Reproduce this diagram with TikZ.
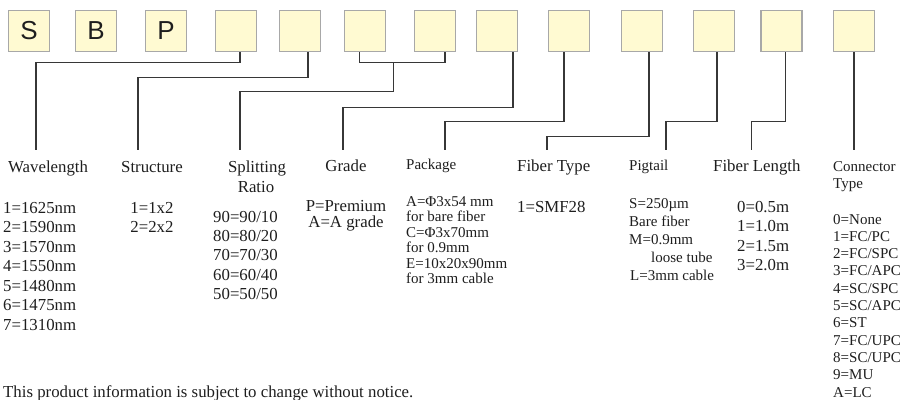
\documentclass[tikz,border=0pt]{standalone}
\usepackage{fontspec}
\setmainfont{Liberation Serif}
\newfontfamily\boxfont{Liberation Sans}
\definecolor{boxfill}{RGB}{255,250,210}
\definecolor{boxline}{RGB}{168,168,168}
\definecolor{connline}{RGB}{55,55,55}
\definecolor{txt}{RGB}{30,30,30}
\begin{document}
\begin{tikzpicture}[x=1pt,y=-1pt,
  codebox/.style={draw=boxline, fill=boxfill, line width=1.4pt, minimum size=41pt, inner sep=0pt,
    font=\boxfont\fontsize{26}{26}\selectfont, text=txt},
  conn/.style={draw=connline, line width=1.3pt},
  big/.style={inner sep=0pt, font=\fontsize{16.8}{19}\selectfont, text=txt},
  small/.style={inner sep=0pt, font=\fontsize{15}{17}\selectfont, text=txt}]
\useasboundingbox (0,0) rectangle (901,399);
\clip (0,0) rectangle (901,399);
% code boxes
\node[codebox] (b1) at (29,31) {S};
\node[codebox] (b2) at (96,31) {B};
\node[codebox] (b3) at (166,31) {P};
\node[codebox] (b4) at (236,31) {};
\node[codebox] (b5) at (300,31) {};
\node[codebox] (b6) at (365,31) {};
\node[codebox] (b7) at (435,31) {};
\node[codebox] (b8) at (497,31) {};
\node[codebox] (b9) at (569,31) {};
\node[codebox] (b10) at (642,31) {};
\node[codebox] (b11) at (714,31) {};
\node[codebox] (b12) at (781.5,31) {};
\node[codebox] (b13) at (854,31) {};
% connector end points
\coordinate (eWl) at (36,150);
\coordinate (eSt) at (138,150);
\coordinate (eSr) at (240,150);
\coordinate (eGr) at (343,150);
\coordinate (ePk) at (445,150);
\coordinate (eFt) at (547,150);
\coordinate (ePg) at (666,150);
\coordinate (eFl) at (751.5,150);
\coordinate (eCt) at (854,150);
\coordinate (jn) at (393.5,62);
% connectors
\draw[conn] ([xshift=4pt]b4.south) -- ++(0,10.5) -| (eWl);
\draw[conn] ([xshift=8pt]b5.south) -- ++(0,25.5) -| (eSt);
\draw[conn] ([xshift=-5.3pt]b6.south) -- ++(0,10.5) -| ([xshift=10pt]b7.south);
\draw[conn] (jn) -- ++(0,29.5) -| (eSr);
\draw[conn] ([xshift=16pt]b8.south) -- ++(0,55) -| (eGr);
\draw[conn] ([xshift=-5pt]b9.south) -- ++(0,69) -| (ePk);
\draw[conn] ([xshift=7pt]b10.south) -- ++(0,84.5) -| (eFt);
\draw[conn] ([xshift=3pt]b11.south) -- ++(0,69) -| (ePg);
\draw[conn] ([xshift=4pt]b12.south) -- ++(0,69) -| (eFl);
\draw[conn] (b13.south) -- (eCt);
% titles
\node[big, anchor=base west] (tWl) at (8,172) {Wavelength};
\node[big, anchor=base] (tSt) at (152,172) {Structure};
\node[big, anchor=base] (tSr1) at (257,172) {Splitting};
\node[big, anchor=base] (tSr2) at (256,192) {Ratio};
\node[big, anchor=base] (tGr) at (346,171) {Grade};
\node[small, anchor=base west] (tPk) at (406,169) {Package};
\node[big, anchor=base west] (tFt) at (517,171) {Fiber Type};
\node[small, anchor=base west] (tPg) at (629,170) {Pigtail};
\node[big, anchor=base west] (tFl) at (713,171) {Fiber Length};
\node[small, anchor=base west] (tCt1) at (833,171) {Connector};
\node[small, anchor=base west] (tCt2) at (833,188) {Type};
% items
\foreach \t [count=\i, evaluate=\i as \yy using 213+19.5*(\i-1)] in
  {1=1625nm,2=1590nm,3=1570nm,4=1550nm,5=1480nm,6=1475nm,7=1310nm}
  \node[big, anchor=base west] (wl\i) at (3,\yy) {\t};
\foreach \t [count=\i, evaluate=\i as \yy using 213+19.5*(\i-1)] in {1=1x2,2=2x2}
  \node[big, anchor=base] (st\i) at (152,\yy) {\t};
\foreach \t [count=\i, evaluate=\i as \yy using 222+19.4*(\i-1)] in
  {90=90/10,80=80/20,70=70/30,60=60/40,50=50/50}
  \node[big, anchor=base west] (sr\i) at (213,\yy) {\t};
\node[big, anchor=base] (gr1) at (346,211) {P=Premium};
\node[big, anchor=base] (gr2) at (346,227.5) {A=A grade};
\foreach \t [count=\i, evaluate=\i as \yy using 206+15.5*(\i-1)] in
  {A=Φ3x54 mm,for bare fiber,C=Φ3x70mm,for 0.9mm,E=10x20x90mm,for 3mm cable}
  \node[small, anchor=base west] (pk\i) at (406,\yy) {\t};
\node[big, anchor=base west] (ft1) at (517,212) {1=SMF28};
\node[small, anchor=base west] (pg1) at (629,208) {S=250µm};
\node[small, anchor=base west] (pg2) at (629,226) {Bare fiber};
\node[small, anchor=base west] (pg3) at (629,244) {M=0.9mm};
\node[small, anchor=base west] (pg4) at (651,262) {loose tube};
\node[small, anchor=base west] (pg5) at (630,280) {L=3mm cable};
\foreach \t [count=\i, evaluate=\i as \yy using 212+19.5*(\i-1)] in
  {0=0.5m,1=1.0m,2=1.5m,3=2.0m}
  \node[big, anchor=base west] (fl\i) at (737,\yy) {\t};
\foreach \t [count=\i, evaluate=\i as \yy using 224+17.3*(\i-1)] in
  {0=None,1=FC/PC,2=FC/SPC,3=FC/APC,4=SC/SPC,5=SC/APC,6=ST,7=FC/UPC,8=SC/UPC,9=MU,A=LC}
  \node[small, anchor=base west] (ct\i) at (833,\yy) {\t};
% note
\node[big, anchor=base west] (note) at (3,397) {This product information is subject to change without notice.};
\end{tikzpicture}
\end{document}
